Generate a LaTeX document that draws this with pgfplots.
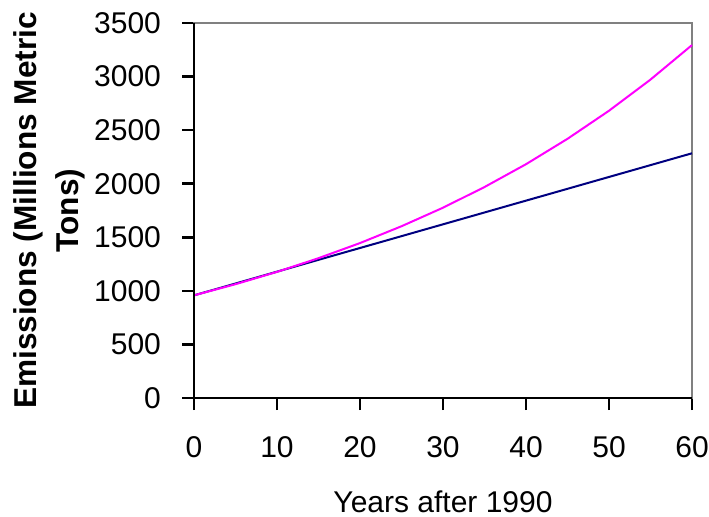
\documentclass[border=0pt]{standalone}
\usepackage{pgfplots}
\pgfplotsset{compat=1.18}
\usepackage{fontspec}
\setmainfont{Liberation Sans}
\definecolor{emNavy}{RGB}{0,0,128}
\definecolor{emPink}{RGB}{255,0,255}
\definecolor{frameGrey}{RGB}{128,128,128}

\begin{document}
\begin{tikzpicture}
\begin{axis}[
    width=249pt, height=187.5pt,
    scale only axis,
    xmin=0, xmax=60,
    ymin=0, ymax=3500,
    xtick={0,10,...,60},
    ytick={0,500,...,3500},
    xtick pos=left, ytick pos=left,
    tick align=outside,
    major tick length=6pt,
    tick style={black, line width=1.3pt},
    axis line style={frameGrey, line width=1.1pt},
    ticklabel style={font=\fontsize{15}{18}\selectfont},
    xticklabel style={yshift=-9.5pt},
    yticklabel style={xshift=-7pt},
    /pgf/number format/assume math mode=true,
    scaled ticks=false,
    yticklabel style={/pgf/number format/1000 sep={}},
    xlabel={Years after 1990},
    xlabel style={font=\fontsize{15}{18}\selectfont, yshift=-10pt},
    ylabel={\textbf{Emissions (Millions Metric}\\\textbf{Tons)}},
    ylabel style={font=\fontsize{15.8}{21}\selectfont, align=center, yshift=-2.5pt},
    clip=false,
]
% linear projection
\addplot[emNavy, line width=1pt] coordinates {
    (0,958) (10,1179) (20,1400) (30,1621) (40,1842) (50,2063) (60,2284)
};
% exponential projection
\addplot[emPink, line width=1pt] coordinates {
    (0,958) (5,1062) (10,1177) (15,1305) (20,1446) (25,1603) (30,1776)
    (35,1969) (40,2182) (45,2419) (50,2681) (55,2972) (60,3294)
};
\draw[black, line width=1.3pt] (rel axis cs:0,1) -- (rel axis cs:0,0) -- (rel axis cs:1,0);
\end{axis}
\pgfresetboundingbox
\path (current axis.south west) ++(-97pt,-59.5pt) coordinate (bbA);
\path (current axis.north east) ++(8.5pt,11.5pt) coordinate (bbB);
\path[use as bounding box] (bbA) rectangle (bbB);
\end{tikzpicture}
\end{document}
